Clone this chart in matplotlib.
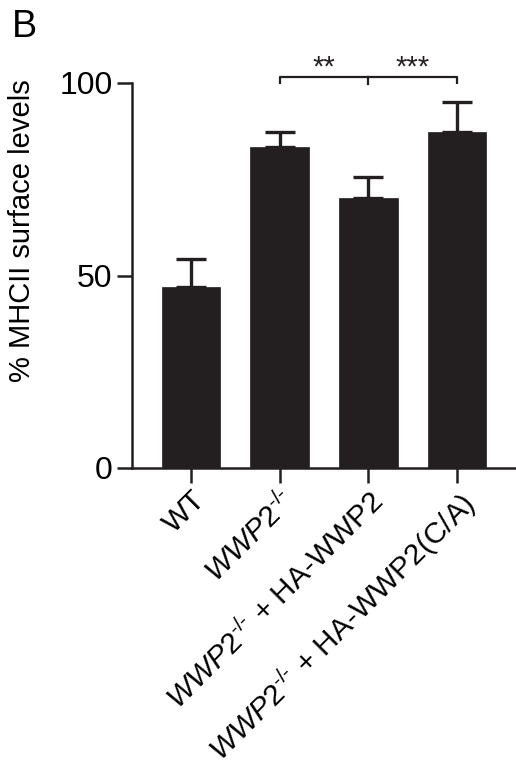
import matplotlib
matplotlib.use("Agg")
import matplotlib.pyplot as plt
import numpy as np

plt.rcParams['font.family'] = ['Liberation Sans', 'DejaVu Sans']
plt.rcParams['mathtext.fontset'] = 'custom'
plt.rcParams['mathtext.rm'] = 'Liberation Sans'
plt.rcParams['mathtext.it'] = 'Liberation Sans:italic'
plt.rcParams['mathtext.bf'] = 'Liberation Sans:bold'

sup = r"^{\text{-/-}}"
categories = [
    "WT",
    r"$\mathit{WWP2}" + sup + "$",
    r"$\mathit{WWP2}" + sup + "$ + HA-WWP2",
    r"$\mathit{WWP2}" + sup + "$ + HA-WWP2(C/A)",
]
values = [47.1, 83.5, 70.2, 87.4]
errors = [7.3, 3.8, 5.4, 7.6]
yticks = [0, 50, 100]
sig_pairs = [(1, 2, "**"), (2, 3, "***")]

W, H = 516, 773
fig = plt.figure(figsize=(W / 100, H / 100), dpi=100)
ax = fig.add_axes([132 / W, 1 - 468 / H, 1 - 132 / W, (468 - 83) / H])

dark = "#231f20"
x = np.arange(len(categories))
ax.bar(x, values, width=0.66, color=dark, edgecolor=dark, linewidth=0.5, zorder=2)
ax.errorbar(x, values, yerr=[np.zeros(len(errors)), errors], fmt="none",
            ecolor=dark, elinewidth=2.4, capsize=10.5, capthick=2.4, zorder=1)

ax.set_xlim(-0.665, 3.665)
ax.set_ylim(0, 100)
ax.set_yticks(yticks)
ax.set_xticks(x)
ax.set_xticklabels(categories, rotation=45, ha="right", rotation_mode="anchor", fontsize=21.5)
ax.tick_params(axis="y", labelsize=23, length=11, width=1.8, color=dark, pad=3)
ax.tick_params(axis="x", length=11, width=1.8, color=dark, pad=2)
for s in ["top", "right"]:
    ax.spines[s].set_visible(False)
for s in ["left", "bottom"]:
    ax.spines[s].set_linewidth(1.8)
    ax.spines[s].set_color(dark)
ax.spines["left"].set_bounds(0, 100)

ax.set_ylabel("% MHCII surface levels", fontsize=21)
ax.yaxis.set_label_coords((36 - 132) / 384, (468 - 231) / 385)

# significance bracket
ybr = 101.6
ax.plot([x[1], x[1], x[3], x[3]], [99.7, ybr, ybr, 99.7], color=dark, lw=1.6,
        clip_on=False, solid_capstyle="butt")
ax.plot([x[2], x[2]], [ybr, 99.7], color=dark, lw=1.6, clip_on=False)
for a, b, lab in sig_pairs:
    ax.text((x[a] + x[b]) / 2, 102.0, lab, ha="center", va="baseline", fontsize=21, color=dark)

fig.text(12 / W, 1 - 9 / H, "B", fontsize=27, ha="left", va="top")

fig.savefig("out.png", dpi=100)
